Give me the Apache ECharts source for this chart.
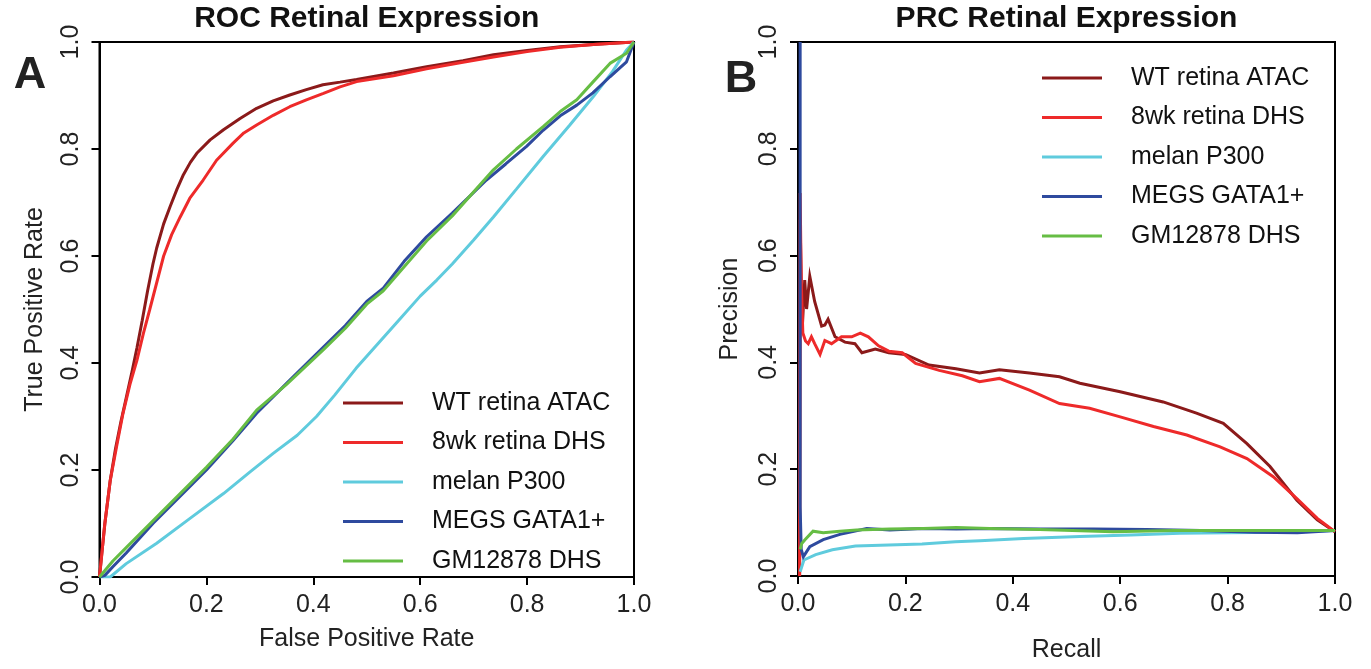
<!DOCTYPE html>
<html>
<head>
<meta charset="utf-8">
<script src="https://cdn.jsdelivr.net/npm/echarts@6/dist/echarts.min.js"></script>
<style>
html,body{margin:0;padding:0;background:#fff;}
#chart{width:1371px;height:669px;}
</style>
</head>
<body>
<div id="chart"></div>
<script>
// ---- Data ----
const seriesNames = ['WT retina ATAC', '8wk retina DHS', 'melan P300', 'MEGS GATA1+', 'GM12878 DHS'];
const seriesColors = ['#8B1A1A', '#EE2A2A', '#5FCBDD', '#2E4A9E', '#66BD44'];
const tickValues = [0, 0.2, 0.4, 0.6, 0.8, 1.0];

// ROC curves: [False Positive Rate, True Positive Rate]
const rocWT = [[0,0],[0.0044,0.044],[0.01,0.10],[0.02,0.18],[0.03,0.24],[0.04,0.29],[0.05,0.335],[0.06,0.38],[0.07,0.428],[0.08,0.48],[0.09,0.535],[0.1,0.585],[0.107,0.615],[0.12,0.66],[0.132,0.692],[0.145,0.725],[0.157,0.752],[0.17,0.775],[0.182,0.792],[0.207,0.817],[0.232,0.836],[0.263,0.857],[0.294,0.876],[0.325,0.89],[0.356,0.901],[0.387,0.911],[0.418,0.92],[0.45,0.925],[0.481,0.93],[0.55,0.942],[0.612,0.954],[0.68,0.965],[0.737,0.976],[0.8,0.984],[0.862,0.991],[0.93,0.996],[1,1]];
const roc8wk = [[0,0],[0.0044,0.044],[0.01,0.10],[0.02,0.18],[0.032,0.244],[0.044,0.306],[0.057,0.36],[0.07,0.405],[0.082,0.455],[0.094,0.5],[0.107,0.55],[0.12,0.60],[0.135,0.64],[0.151,0.673],[0.169,0.708],[0.194,0.742],[0.219,0.779],[0.25,0.811],[0.27,0.83],[0.294,0.845],[0.325,0.863],[0.356,0.879],[0.387,0.892],[0.419,0.904],[0.45,0.916],[0.481,0.926],[0.55,0.937],[0.612,0.95],[0.68,0.962],[0.737,0.972],[0.8,0.982],[0.862,0.99],[0.93,0.996],[1,1]];
const rocMelan = [[0,0],[0.02,0],[0.05,0.025],[0.107,0.063],[0.17,0.11],[0.232,0.156],[0.28,0.195],[0.325,0.231],[0.37,0.265],[0.406,0.30],[0.44,0.34],[0.48,0.39],[0.52,0.435],[0.56,0.48],[0.6,0.525],[0.631,0.555],[0.66,0.585],[0.7,0.63],[0.737,0.673],[0.78,0.725],[0.83,0.786],[0.88,0.845],[0.924,0.898],[0.96,0.945],[0.986,0.985],[1,1]];
const rocMegs = [[0,0],[0.01,0.003],[0.025,0.019],[0.05,0.045],[0.1,0.1],[0.15,0.15],[0.2,0.2],[0.25,0.255],[0.294,0.306],[0.35,0.362],[0.419,0.43],[0.46,0.47],[0.5,0.515],[0.531,0.54],[0.57,0.59],[0.612,0.636],[0.66,0.68],[0.724,0.742],[0.76,0.772],[0.799,0.805],[0.83,0.835],[0.862,0.862],[0.893,0.882],[0.923,0.905],[0.955,0.935],[0.986,0.963],[1,1]];
const rocGM = [[0,0],[0.025,0.03],[0.05,0.055],[0.1,0.105],[0.15,0.155],[0.2,0.205],[0.25,0.258],[0.294,0.312],[0.35,0.36],[0.419,0.425],[0.46,0.465],[0.5,0.51],[0.531,0.535],[0.57,0.58],[0.612,0.628],[0.66,0.675],[0.737,0.761],[0.78,0.8],[0.83,0.842],[0.862,0.87],[0.893,0.892],[0.923,0.925],[0.955,0.96],[0.986,0.979],[1,1]];

// PRC curves: [Recall, Precision]
const prcWT = [[0.003,0],[0.004,0.667],[0.0075,0.455],[0.0125,0.554],[0.016,0.50],[0.022,0.561],[0.031,0.514],[0.044,0.468],[0.05,0.47],[0.056,0.481],[0.069,0.448],[0.0875,0.438],[0.106,0.435],[0.119,0.418],[0.144,0.425],[0.169,0.418],[0.2,0.415],[0.244,0.395],[0.294,0.388],[0.338,0.38],[0.375,0.386],[0.431,0.38],[0.487,0.373],[0.525,0.361],[0.6,0.345],[0.68,0.326],[0.742,0.305],[0.792,0.286],[0.836,0.248],[0.879,0.205],[0.929,0.142],[0.967,0.105],[1,0.083]];
const prc8wk = [[0.003,0],[0.004,0.717],[0.006,0.554],[0.009,0.455],[0.014,0.44],[0.019,0.435],[0.025,0.448],[0.031,0.435],[0.041,0.415],[0.05,0.441],[0.0625,0.435],[0.081,0.448],[0.1,0.448],[0.116,0.455],[0.131,0.448],[0.15,0.431],[0.169,0.421],[0.194,0.418],[0.219,0.398],[0.263,0.385],[0.306,0.375],[0.338,0.364],[0.375,0.37],[0.431,0.348],[0.487,0.323],[0.543,0.314],[0.6,0.298],[0.662,0.28],[0.724,0.264],[0.786,0.242],[0.836,0.22],[0.885,0.186],[0.929,0.145],[0.967,0.108],[1,0.083]];
const prcMelan = [[0.004,0.008],[0.011,0.03],[0.033,0.04],[0.064,0.049],[0.107,0.056],[0.169,0.058],[0.231,0.06],[0.293,0.064],[0.339,0.066],[0.42,0.07],[0.525,0.074],[0.62,0.077],[0.711,0.08],[0.8,0.081],[0.897,0.082],[1,0.085]];
const prcMegs = [[0.004,1.0],[0.004,0.13],[0.006,0.05],[0.0099,0.036],[0.022,0.055],[0.047,0.068],[0.078,0.078],[0.128,0.089],[0.171,0.086],[0.233,0.089],[0.295,0.088],[0.357,0.089],[0.45,0.088],[0.55,0.088],[0.649,0.087],[0.75,0.085],[0.85,0.082],[0.93,0.081],[1,0.085]];
const prcGM = [[0.004,0.05],[0.007,0.061],[0.013,0.068],[0.028,0.084],[0.047,0.081],[0.078,0.084],[0.109,0.086],[0.171,0.088],[0.233,0.089],[0.295,0.091],[0.357,0.089],[0.45,0.087],[0.587,0.083],[0.7,0.085],[0.85,0.085],[1,0.085]];

const rocData = [rocWT, roc8wk, rocMelan, rocMegs, rocGM];
const prcData = [prcWT, prc8wk, prcMelan, prcMegs, prcGM];

// ---- Chart ----
const FONT = '"Liberation Sans", Arial, sans-serif';
const chart = echarts.init(document.getElementById('chart'), null, {renderer: 'canvas'});

function xAxis(gridIndex, name, gap) {
  return {
    type: 'value', gridIndex, min: 0, max: 1, interval: 0.2,
    name, nameLocation: 'middle', nameGap: gap,
    nameTextStyle: {fontFamily: FONT, fontSize: 25, color: '#222'},
    axisLine: {show: true, onZero: false, lineStyle: {color: '#000', width: 2}},
    axisTick: {show: true, length: 8, lineStyle: {color: '#000', width: 2}},
    axisLabel: {show: true, margin: 16, fontFamily: FONT, fontSize: 25, color: '#222',
      formatter: v => v.toFixed(1)},
    splitLine: {show: false}
  };
}
function yAxis(gridIndex, name, gap) {
  return {
    type: 'value', gridIndex, min: 0, max: 1, interval: 0.2,
    name, nameLocation: 'middle', nameGap: gap, nameRotate: 90,
    nameTextStyle: {fontFamily: FONT, fontSize: 25, color: '#222'},
    axisLine: {show: true, onZero: false, lineStyle: {color: '#000', width: 2}},
    axisTick: {show: true, length: 8, lineStyle: {color: '#000', width: 2}},
    axisLabel: {show: true, margin: 16, rotate: 90, fontFamily: FONT, fontSize: 25, color: '#222',
      formatter: v => v.toFixed(1)},
    splitLine: {show: false}
  };
}

const series = [];
seriesNames.forEach((n, i) => {
  series.push({name: n, type: 'line', xAxisIndex: 0, yAxisIndex: 0, data: rocData[i],
    showSymbol: false, symbol: 'none', silent: true, z: 2 + i,
    lineStyle: {color: seriesColors[i], width: 3}, itemStyle: {color: seriesColors[i]}});
});
seriesNames.forEach((n, i) => {
  series.push({name: n, type: 'line', xAxisIndex: 1, yAxisIndex: 1, data: prcData[i],
    showSymbol: false, symbol: 'none', silent: true, z: 2 + i,
    lineStyle: {color: seriesColors[i], width: 3, join: 'miter'}, itemStyle: {color: seriesColors[i]}});
});

function legend(left, top) {
  return {
    data: seriesNames, left, top, orient: 'vertical', icon: 'rect',
    itemWidth: 60, itemHeight: 3, itemGap: 14.5, padding: 0, selectedMode: false,
    textStyle: {fontFamily: FONT, fontSize: 25, color: '#111', lineHeight: 25, padding: [0, 0, 0, 24]}
  };
}

const option = {
  animation: false,
  backgroundColor: '#fff',
  grid: [
    {left: 99.5, top: 42, width: 534.5, height: 535, show: true, borderColor: '#000', borderWidth: 2, containLabel: false, outerBoundsMode: 'none'},
    {left: 798, top: 42, width: 537, height: 534, show: true, borderColor: '#000', borderWidth: 2, containLabel: false, outerBoundsMode: 'none'}
  ],
  xAxis: [xAxis(0, 'False Positive Rate', 50), xAxis(1, 'Recall', 62)],
  yAxis: [yAxis(0, 'True Positive Rate', 52), yAxis(1, 'Precision', 55)],
  legend: [legend(343, 390.5), legend(1042, 65.5)],
  tooltip: {show: false},
  series,
  graphic: [
    {type: 'text', x: 366.75, y: 19, style: {text: 'ROC Retinal Expression', font: 'bold 30px ' + FONT, fill: '#111', textAlign: 'center', textVerticalAlign: 'middle'}},
    {type: 'text', x: 1066.5, y: 19, style: {text: 'PRC Retinal Expression', font: 'bold 30px ' + FONT, fill: '#111', textAlign: 'center', textVerticalAlign: 'middle'}},
    {type: 'text', x: 30, y: 76, style: {text: 'A', font: 'bold 45px ' + FONT, fill: '#222', textAlign: 'center', textVerticalAlign: 'middle'}},
    {type: 'text', x: 741, y: 80, style: {text: 'B', font: 'bold 45px ' + FONT, fill: '#222', textAlign: 'center', textVerticalAlign: 'middle'}}
  ]
};
chart.setOption(option);
</script>
</body>
</html>
